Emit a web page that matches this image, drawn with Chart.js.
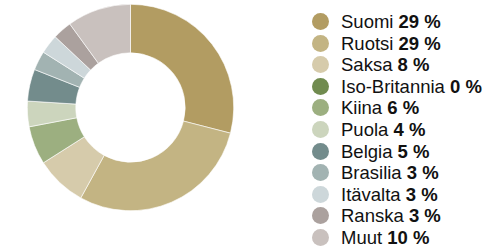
<!DOCTYPE html>
<html>
<head>
<meta charset="utf-8">
<script src="https://cdn.jsdelivr.net/npm/chart.js@4/dist/chart.umd.min.js"></script>
<style>
  html, body { margin: 0; padding: 0; background: #fff; }
  #wrap { position: relative; width: 490px; height: 249px; overflow: hidden; }
  #chart-box { position: absolute; left: 27px; top: 4px; width: 207px; height: 207px; }
  #legend { position: absolute; left: 312px; top: 11px; margin: 0; padding: 0; list-style: none;
    font-family: "Liberation Sans", Arial, sans-serif; font-size: 18.5px; color: #111; }
  #legend li { height: 21.6px; line-height: 21.6px; white-space: nowrap; }
  #legend .dot { display: inline-block; width: 17px; height: 17px; border-radius: 50%;
    vertical-align: -2px; margin-right: 12px; }
  #legend b { font-weight: bold; }
</style>
</head>
<body>
<div id="wrap">
  <div id="chart-box"><canvas id="donut"></canvas></div>
  <ul id="legend"></ul>
</div>
<script>
// Vientimaat, osuus (%)
const countries = ['Suomi', 'Ruotsi', 'Saksa', 'Iso-Britannia', 'Kiina', 'Puola', 'Belgia', 'Brasilia', 'Itävalta', 'Ranska', 'Muut'];
const shares = [29, 29, 8, 0, 6, 4, 5, 3, 3, 3, 10];
const colors = ['#b29c62', '#c3b483', '#d6cbab', '#708b4f', '#9caf80', '#ccd5bd', '#738c8c', '#a2b3b2', '#cdd7da', '#aba19e', '#c9c1be'];

// Legend (label + bold value)
const legend = document.getElementById('legend');
countries.forEach((name, i) => {
  const li = document.createElement('li');
  li.innerHTML = `<span class="dot" style="background:${colors[i]}"></span>${name} <b>${shares[i]} %</b>`;
  legend.appendChild(li);
});

new Chart(document.getElementById('donut'), {
  type: 'doughnut',
  data: {
    labels: countries,
    datasets: [{
      data: shares,
      backgroundColor: colors,
      borderColor: '#ffffff',
      borderWidth: 0.6,
    }],
  },
  options: {
    responsive: true,
    maintainAspectRatio: false,
    animation: false,
    cutout: '53%',
    layout: { padding: 0 },
    plugins: { legend: { display: false }, tooltip: { enabled: false } },
  },
});
</script>
</body>
</html>
